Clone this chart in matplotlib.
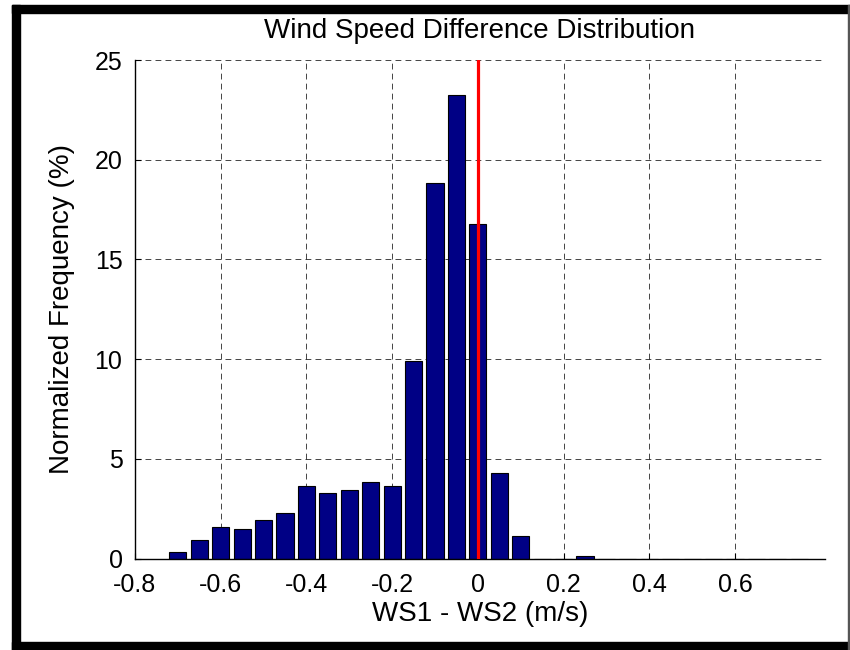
import matplotlib.pyplot as plt
from matplotlib.patches import Rectangle

# dane histogramu (środki przedziałów i częstość w %)
bin_centers = [-0.70, -0.65, -0.60, -0.55, -0.50, -0.45, -0.40, -0.35, -0.30, -0.25,
               -0.20, -0.15, -0.10, -0.05, 0.00, 0.05, 0.10, 0.15, 0.20, 0.25,
               0.30, 0.35, 0.40, 0.45, 0.50, 0.55, 0.60, 0.65, 0.70, 0.75]
freq = [0.35, 0.92, 1.60, 1.48, 1.93, 2.27, 3.62, 3.28, 3.42, 3.85,
        3.62, 9.93, 18.83, 23.27, 16.80, 4.28, 1.12, 0.0, 0.0, 0.13,
        0.0, 0.0, 0.0, 0.0, 0.0, 0.0, 0.0, 0.0, 0.0, 0.0]
x_ticks = [-0.8, -0.6, -0.4, -0.2, 0, 0.2, 0.4, 0.6]
x_tick_labels = ['-0.8', '-0.6', '-0.4', '-0.2', '0', '0.2', '0.4', '0.6']
y_ticks = [0, 5, 10, 15, 20, 25]

plt.rcParams['font.family'] = ['Liberation Sans', 'DejaVu Sans']

fig = plt.figure(figsize=(8.5, 6.5), dpi=100)
ax = fig.add_axes([135 / 850, 1 - 558.7 / 650, 690 / 850, 498.7 / 650])

ax.bar(bin_centers, freq, width=0.04, color='#000085', edgecolor='black', linewidth=0.8, zorder=2)
ax.plot([0, 0], [0, 25], color='red', linewidth=2.3, zorder=3)

ax.set_xlim(-0.8, 0.81)
ax.set_ylim(0, 25)
ax.set_xticks(x_ticks)
ax.set_xticklabels(x_tick_labels)
ax.set_yticks(y_ticks)
ax.tick_params(direction='in', length=4, labelsize=18)
ax.tick_params(axis='x', pad=10)
ax.tick_params(axis='y', pad=9)

ax.grid(True, color='black', linestyle=(0, (7, 5)), linewidth=0.6, alpha=0.85)
ax.set_axisbelow(True)
ax.spines['top'].set_visible(False)
ax.spines['right'].set_visible(False)
ax.spines['left'].set_linewidth(1.0)
ax.spines['bottom'].set_linewidth(1.0)

ax.set_title('Wind Speed Difference Distribution', fontsize=20, pad=16)
ax.set_xlabel('WS1 - WS2 (m/s)', fontsize=20, labelpad=3)
ax.set_ylabel('Normalized Frequency (%)', fontsize=20, labelpad=14)

# czarna ramka dookoła figury
def px_rect(x0, y0, x1, y1, color):
    fig.patches.append(Rectangle((x0 / 850, 1 - y1 / 650), (x1 - x0) / 850, (y1 - y0) / 650,
                                 transform=fig.transFigure, color=color, zorder=10))

px_rect(12, 5, 850, 13, 'black')
px_rect(12, 5, 20, 650, 'black')
px_rect(12, 642, 850, 650, 'black')
px_rect(848, 5, 849.5, 650, '#555555')

fig.savefig('out.png', dpi=100)
